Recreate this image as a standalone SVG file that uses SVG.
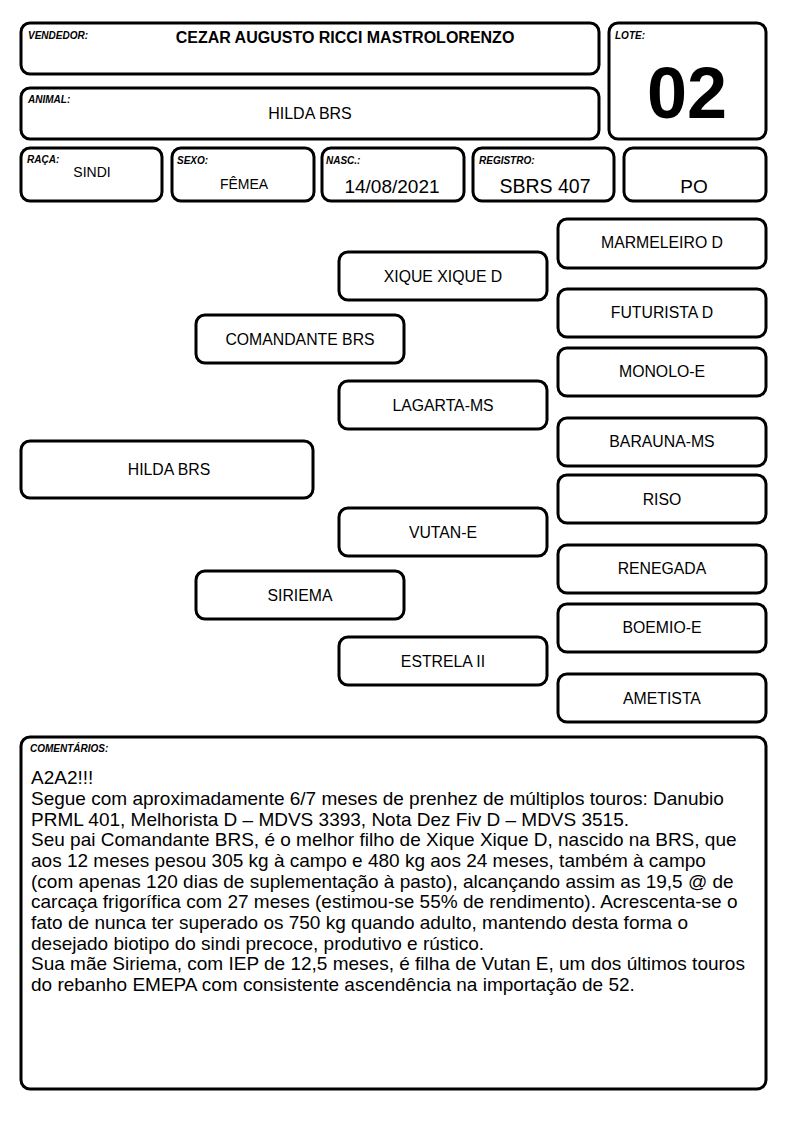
<svg xmlns="http://www.w3.org/2000/svg" width="794" height="1123" viewBox="0 0 794 1123">
<style>
.b{fill:#fff;stroke:#000;stroke-width:3}
.l{font-family:"Liberation Sans",Arial,sans-serif;font-size:10px;font-weight:bold;font-style:italic;fill:#000}
.t{font-family:"Liberation Sans",Arial,sans-serif;fill:#000;text-anchor:middle}
.n{font-family:"Liberation Sans",Arial,sans-serif;font-size:15.8px;fill:#000;text-anchor:middle}
.c{font-family:"Liberation Sans",Arial,sans-serif;font-size:19px;fill:#000}
</style>
<rect width="794" height="1123" fill="#fff"/>
<g id="vendedor"><rect class="b" x="21" y="23" width="578" height="51" rx="9"/><text class="l" x="28" y="39">VENDEDOR:</text><text class="t" x="345" y="43" font-size="16" font-weight="bold">CEZAR AUGUSTO RICCI MASTROLORENZO</text></g>
<g id="animal"><rect class="b" x="21" y="88" width="578" height="51" rx="9"/><text class="l" x="28" y="103">ANIMAL:</text><text class="t" x="310" y="119" font-size="16">HILDA BRS</text></g>
<g id="lote"><rect class="b" x="609" y="23" width="157" height="116" rx="9"/><text class="l" x="615" y="39">LOTE:</text><text class="t" x="687" y="118" font-size="72" font-weight="bold">02</text></g>
<g id="raca"><rect class="b" x="21" y="148" width="141" height="53" rx="9"/><text class="l" x="27" y="163">RAÇA:</text><text class="t" x="92" y="177" font-size="14">SINDI</text></g>
<g id="sexo"><rect class="b" x="172" y="148" width="142" height="53" rx="9"/><text class="l" x="177" y="164">SEXO:</text><text class="t" x="244" y="189" font-size="14">FÊMEA</text></g>
<g id="nasc"><rect class="b" x="322" y="148" width="142" height="53" rx="9"/><text class="l" x="326" y="164">NASC.:</text><text class="t" x="392" y="193" font-size="19">14/08/2021</text></g>
<g id="registro"><rect class="b" x="473" y="148" width="141" height="53" rx="9"/><text class="l" x="479" y="164">REGISTRO:</text><text class="t" x="545" y="193" font-size="19.5">SBRS 407</text></g>
<g id="categoria"><rect class="b" x="624" y="148" width="142" height="53" rx="9"/><text class="t" x="694" y="193" font-size="19">PO</text></g>
<g id="connectors"></g>
<g id="hilda"><rect class="b" x="21" y="441" width="292" height="57" rx="9"/><text class="n" x="169" y="475">HILDA BRS</text></g>
<g id="comandante"><rect class="b" x="196" y="315" width="208" height="48" rx="9"/><text class="n" x="300" y="345">COMANDANTE BRS</text></g>
<g id="siriema"><rect class="b" x="196" y="571" width="208" height="48" rx="9"/><text class="n" x="300" y="601">SIRIEMA</text></g>
<g id="xique"><rect class="b" x="339" y="252" width="208" height="48" rx="9"/><text class="n" x="443" y="282">XIQUE XIQUE D</text></g>
<g id="lagarta"><rect class="b" x="339" y="381" width="208" height="48" rx="9"/><text class="n" x="443" y="411">LAGARTA-MS</text></g>
<g id="vutan"><rect class="b" x="339" y="508" width="208" height="48" rx="9"/><text class="n" x="443" y="538">VUTAN-E</text></g>
<g id="estrela"><rect class="b" x="339" y="637" width="208" height="48" rx="9"/><text class="n" x="443" y="667">ESTRELA II</text></g>
<g id="marmeleiro"><rect class="b" x="558" y="219" width="208" height="49" rx="9"/><text class="n" x="662" y="248">MARMELEIRO D</text></g>
<g id="futurista"><rect class="b" x="558" y="289" width="208" height="48" rx="9"/><text class="n" x="662" y="318">FUTURISTA D</text></g>
<g id="monolo"><rect class="b" x="558" y="348" width="208" height="48" rx="9"/><text class="n" x="662" y="377">MONOLO-E</text></g>
<g id="barauna"><rect class="b" x="558" y="418" width="208" height="48" rx="9"/><text class="n" x="662" y="447">BARAUNA-MS</text></g>
<g id="riso"><rect class="b" x="558" y="475" width="208" height="48" rx="9"/><text class="n" x="662" y="505">RISO</text></g>
<g id="renegada"><rect class="b" x="558" y="545" width="208" height="48" rx="9"/><text class="n" x="662" y="574">RENEGADA</text></g>
<g id="boemio"><rect class="b" x="558" y="604" width="208" height="48" rx="9"/><text class="n" x="662" y="633">BOEMIO-E</text></g>
<g id="ametista"><rect class="b" x="558" y="674" width="208" height="48" rx="9"/><text class="n" x="662" y="704">AMETISTA</text></g>
<g id="comentarios"><rect class="b" x="21" y="737" width="745" height="352" rx="9"/><text class="l" x="30" y="752" font-size="9.5">COMENTÁRIOS:</text>
<text class="c" x="31" y="784">A2A2!!!</text>
<text class="c" x="31" y="805">Segue com aproximadamente 6/7 meses de prenhez de múltiplos touros: Danubio</text>
<text class="c" x="31" y="825.5">PRML 401, Melhorista D – MDVS 3393, Nota Dez Fiv D – MDVS 3515.</text>
<text class="c" x="31" y="846">Seu pai Comandante BRS, é o melhor filho de Xique Xique D, nascido na BRS, que</text>
<text class="c" x="31" y="867">aos 12 meses pesou 305 kg à campo e 480 kg aos 24 meses, também à campo</text>
<text class="c" x="31" y="887.5">(com apenas 120 dias de suplementação à pasto), alcançando assim as 19,5 @ de</text>
<text class="c" x="31" y="908">carcaça frigorífica com 27 meses (estimou-se 55% de rendimento). Acrescenta-se o</text>
<text class="c" x="31" y="929">fato de nunca ter superado os 750 kg quando adulto, mantendo desta forma o</text>
<text class="c" x="31" y="949.5">desejado biotipo do sindi precoce, produtivo e rústico.</text>
<text class="c" x="31" y="970">Sua mãe Siriema, com IEP de 12,5 meses, é filha de Vutan E, um dos últimos touros</text>
<text class="c" x="31" y="991">do rebanho EMEPA com consistente ascendência na importação de 52.</text>
</g>
</svg>
